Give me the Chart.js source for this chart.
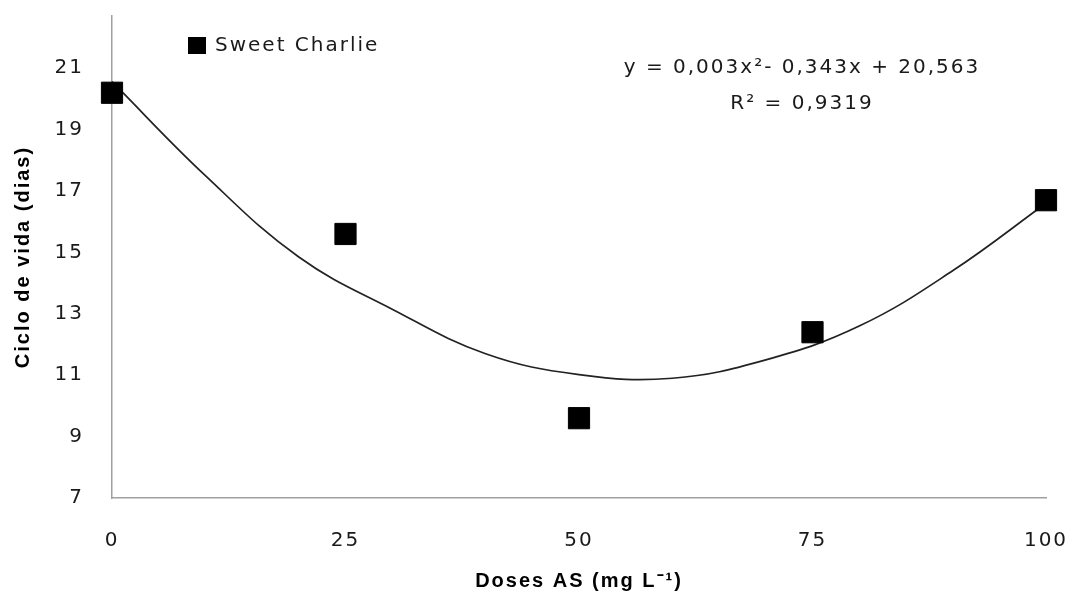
<!DOCTYPE html>
<html>
<head>
<meta charset="utf-8">
<script src="https://cdn.jsdelivr.net/npm/chart.js@4.4.1/dist/chart.umd.min.js"></script>
<style>
    html, body { margin: 0; padding: 0; background: #fff; }
    #wrap { width: 1072px; height: 595px; position: relative; }
</style>
</head>
<body>
<div id="wrap"><canvas id="ciclo_graph"></canvas></div>
<script>
// doses de AS (mg L-1)
const doses = [0, 25, 50, 75, 100];
// ciclo de vida observado (dias) - Sweet Charlie
const ciclo = [20.2, 15.6, 9.6, 12.4, 16.7];
// linha de tendência
const trend_x = [0, 10, 20, 30, 40, 50, 60, 70, 80, 90, 100];
const trend_y = [20.56, 17.5, 14.85, 13.15, 11.7, 11.02, 10.9, 11.5, 12.6, 14.4, 16.6];
// eixos
const x_ticks = [0, 25, 50, 75, 100];
const y_ticks = [7, 9, 11, 13, 15, 17, 19, 21];
const series_name = "Sweet Charlie";
const equation = ["y = 0,003x²- 0,343x + 20,563", "R² = 0,9319"];

window.addEventListener("load", function () {
    draw_ciclo_graph();
});

//fonte do Excel é mais larga: espaçamento entre letras
const spacing_plugin = {
    id: "spacing",
    beforeDraw(chart) {
        chart.ctx.letterSpacing = "2px";
    }
};

//legenda e equação desenhadas por cima do gráfico
const notes_plugin = {
    id: "notes",
    afterDraw(chart) {
        const ctx = chart.ctx;
        ctx.save();
        ctx.letterSpacing = "2px";
        ctx.fillStyle = "#000";
        ctx.fillRect(188, 37, 18, 17);
        ctx.font = "20px 'DejaVu Sans'";
        ctx.textBaseline = "middle";
        ctx.textAlign = "left";
        ctx.fillStyle = "#1a1a1a";
        ctx.fillText(series_name, 215, 46);

        ctx.textAlign = "center";
        ctx.fillText(equation[0], 802, 68);
        ctx.fillText(equation[1], 802, 104);
        ctx.restore();
    }
};

function draw_ciclo_graph() {

    let points = [];
    for (let i = 0; i < doses.length; i++) {
        points.push({x: doses[i], y: ciclo[i]});
    }
    let trend = [];
    for (let i = 0; i < trend_x.length; i++) {
        trend.push({x: trend_x[i], y: trend_y[i]});
    }

    const tick_font = {family: "'DejaVu Sans'", size: 20};
    const title_font = {family: "'Liberation Sans'", size: 20, weight: "bold"};

    const ctx = document.getElementById("ciclo_graph").getContext("2d");
    const myChart = new Chart(ctx, {
        type: "scatter",
        data: {
            datasets: [{
                label: series_name,
                data: points,
                pointStyle: "rect",
                pointRadius: 15,
                pointHoverRadius: 15,
                backgroundColor: "#000",
                borderColor: "#000",
                borderWidth: 1,
                clip: false,
                order: 0
            }, {
                label: "tendência",
                type: "line",
                data: trend,
                showLine: true,
                pointRadius: 0,
                borderColor: "#222",
                borderWidth: 1.7,
                tension: 0.4,
                fill: false,
                clip: false,
                order: 1
            }]
        },
        options: {
            responsive: true,
            maintainAspectRatio: false,
            animation: false,
            layout: {padding: {top: 0, right: 26, left: 0, bottom: 0}},
            plugins: {
                legend: {display: false},
                tooltip: {enabled: false}
            },
            scales: {
                x: {
                    type: "linear",
                    min: 0,
                    max: 100,
                    afterBuildTicks: function (scale) {
                        scale.ticks = x_ticks.map(v => ({value: v}));
                    },
                    afterFit: function (scale) {
                        scale.height = 97;
                        scale.paddingLeft = 0;
                        scale.paddingRight = 0;
                    },
                    ticks: {font: tick_font, color: "#1a1a1a", padding: 31},
                    grid: {display: false, drawTicks: false},
                    border: {display: true, color: "#a0a0a0", width: 1.5},
                    title: {
                        display: true,
                        text: "Doses AS (mg L⁻¹)",
                        font: title_font,
                        color: "#000",
                        padding: {top: 0, bottom: 2}
                    }
                },
                y: {
                    min: 7,
                    max: 22.7,
                    afterBuildTicks: function (scale) {
                        scale.ticks = y_ticks.map(v => ({value: v}));
                    },
                    afterFit: function (scale) {
                        scale.width = 112;
                        scale.paddingTop = 0;
                        scale.paddingBottom = 0;
                    },
                    ticks: {font: tick_font, color: "#1a1a1a", padding: 28},
                    grid: {display: false, drawTicks: false},
                    border: {display: true, color: "#a0a0a0", width: 1.5},
                    title: {
                        display: true,
                        text: "Ciclo de vida (dias)",
                        font: title_font,
                        color: "#000",
                        padding: {top: 11, bottom: 0}
                    }
                }
            }
        },
        plugins: [spacing_plugin, notes_plugin]
    });
}
</script>
</body>
</html>
